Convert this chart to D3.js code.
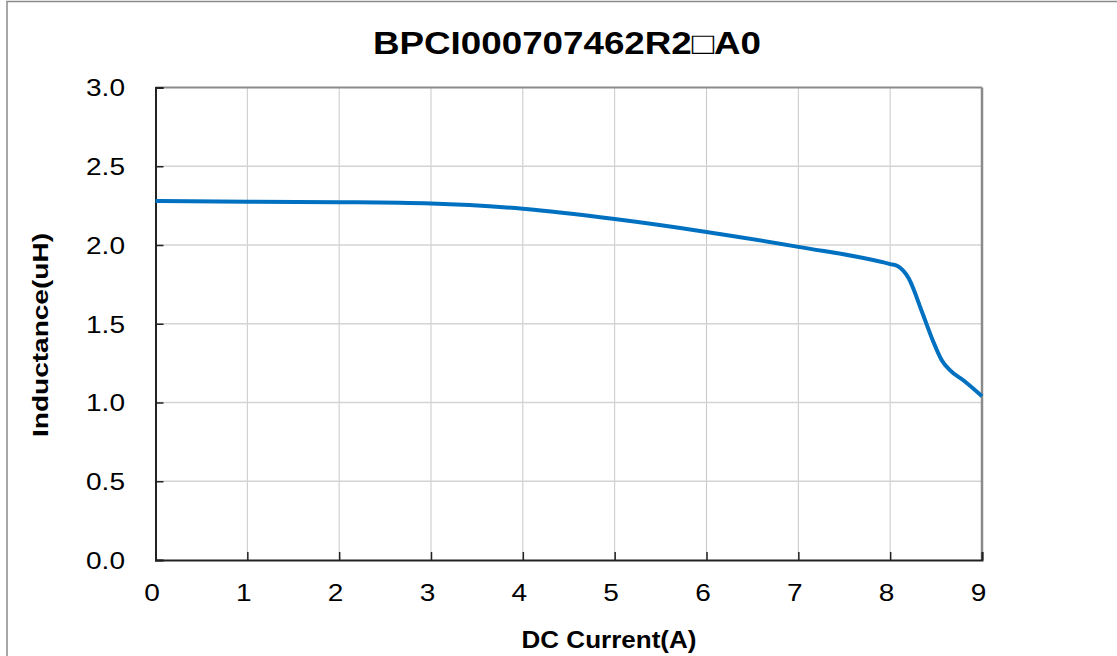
<!DOCTYPE html>
<html><head><meta charset="utf-8">
<script src="https://cdn.jsdelivr.net/npm/d3@7"></script>
<style>body{margin:0;background:#fff}svg{display:block}text{font-family:"Liberation Sans",Arial,sans-serif;fill:#000}</style>
</head><body><svg id="c" width="1117" height="656"></svg>
<script>
const title = "BPCI000707462R2\u25A1A0";
const xLabel = "DC Current(A)";
const yLabel = "Inductance(uH)";
const xTicks = [0,1,2,3,4,5,6,7,8,9];
const yTicks = [0,0.5,1.0,1.5,2.0,2.5,3.0];
const current = [0,1,2,3,4,5,6,7,8,8.08,8.2,8.35,8.46,8.56,8.65,8.8,9];
const inductance = [2.279,2.275,2.272,2.264,2.23,2.165,2.083,1.988,1.879,1.866,1.79,1.57,1.40,1.27,1.205,1.14,1.04];

const svg = d3.select("#c");
const L=155.5,R=982,T=87.5,B=560;
const x = d3.scaleLinear().domain([0,9]).range([L,R]);
const y = d3.scaleLinear().domain([0,3]).range([B,T]);

svg.append("rect").attr("x",7).attr("y",1.5).attr("width",1300).attr("height",800)
  .attr("fill","none").attr("stroke","#8a8a8a").attr("stroke-width",1.5);

// grid
svg.append("g").selectAll("line").data(xTicks.slice(1,-1)).join("line")
  .attr("x1",d=>x(d)).attr("x2",d=>x(d)).attr("y1",T).attr("y2",B)
  .attr("stroke","#c8c8c8").attr("stroke-width",1);
svg.append("g").selectAll("line").data(yTicks.slice(1,-1)).join("line")
  .attr("x1",L).attr("x2",R).attr("y1",d=>y(d)).attr("y2",d=>y(d))
  .attr("stroke","#d4d4d4").attr("stroke-width",1.5);

// frame top/right
svg.append("line").attr("x1",L).attr("x2",R).attr("y1",T).attr("y2",T).attr("stroke","#8a8a8a").attr("stroke-width",2);
svg.append("line").attr("x1",R).attr("x2",R).attr("y1",T).attr("y2",B).attr("stroke","#8a8a8a").attr("stroke-width",2.5);

// axes
const ya = d3.axisLeft(y).tickValues(yTicks).tickSize(-8).tickPadding(0).tickFormat(d3.format(".1f"));
const gy = svg.append("g").attr("transform",`translate(${L},0)`).call(ya);
const xa = d3.axisBottom(x).tickValues(xTicks).tickSize(-8).tickPadding(0).tickFormat(d3.format("d"));
const gx = svg.append("g").attr("transform",`translate(0,${B})`).call(xa);
[gy,gx].forEach(g=>{
  g.select(".domain").attr("stroke","#222").attr("stroke-width",2);
  g.selectAll(".tick line").attr("stroke","#222").attr("stroke-width",1.5);
  g.selectAll("text").attr("font-size",23).attr("font-family","Liberation Sans, Arial, sans-serif").attr("fill","#000");
});
gy.selectAll(".tick text").attr("x",0).attr("dy","0.36em").attr("text-anchor","end")
  .attr("transform",`translate(${-(L-125)},0) scale(1.22,1)`);
gx.selectAll(".tick text").attr("x",0).attr("y",0).attr("dy",0).attr("text-anchor","middle")
  .attr("transform","translate(-4,41) scale(1.22,1)");

// line
const line = d3.line().x((d,i)=>x(current[i])).y(d=>y(d)).curve(d3.curveMonotoneX);
svg.append("path").datum(inductance).attr("d",line).attr("fill","none")
  .attr("stroke","#0070C0").attr("stroke-width",4).attr("stroke-linejoin","round");

// titles
svg.append("text").attr("x",567).attr("y",54).attr("text-anchor","middle")
  .attr("font-size",31).attr("font-weight","bold").attr("textLength",388).attr("lengthAdjust","spacingAndGlyphs").text(title);
svg.append("text").attr("x",609).attr("y",648).attr("text-anchor","middle")
  .attr("font-size",23).attr("font-weight","bold").attr("textLength",175).attr("lengthAdjust","spacingAndGlyphs").text(xLabel);
svg.append("text").attr("transform","translate(48,335) rotate(-90)").attr("text-anchor","middle")
  .attr("font-size",22).attr("font-weight","bold").attr("textLength",204).attr("lengthAdjust","spacingAndGlyphs").text(yLabel);
</script></body></html>
